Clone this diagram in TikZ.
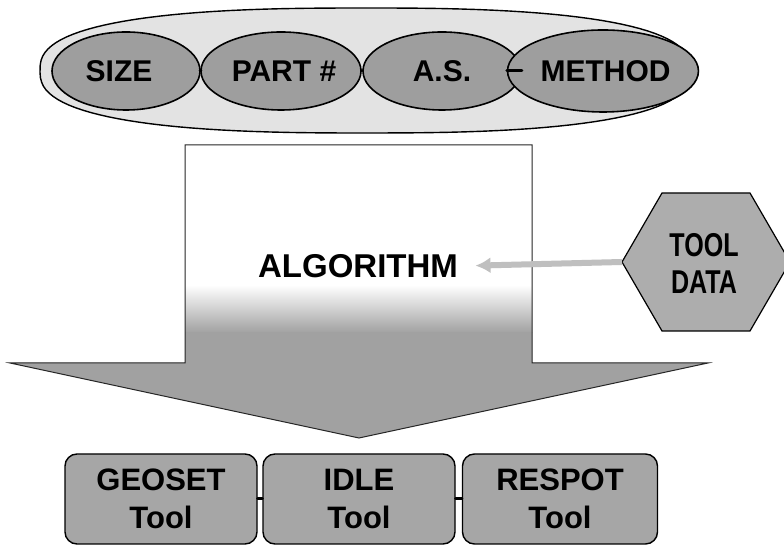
\documentclass[tikz,border=0pt]{standalone}
\usepackage{fontspec}
\setmainfont{Liberation Sans}
\usetikzlibrary{shapes.geometric,arrows.meta}
\begin{document}
\begin{tikzpicture}[x=1pt,y=1pt,
  ell/.style={ellipse, draw=black, line width=1.6pt, fill=black!38, inner sep=0pt,
    minimum height=78pt, font=\fontsize{30}{36}\selectfont\bfseries},
  toolbox/.style={rectangle, rounded corners=12pt, draw=black, line width=1.4pt,
    fill=black!35, minimum width=192pt, minimum height=90pt, align=center,
    font=\fontsize{31}{38}\selectfont\bfseries},
  link/.style={line width=3pt, line cap=round, draw=black},
  bigtext/.style={font=\fontsize{33}{40}\selectfont\bfseries},
  hextext/.style={font=\fontsize{33}{37}\selectfont\bfseries, align=center}
]
\useasboundingbox (0,0) rectangle (784,545);
\fill[white] (0,0) rectangle (784,545);

% outer container
\draw[line width=1.4pt, fill=black!11]
  plot[domain=0.5:360.5, samples=121]
  ({365+325*sign(cos(\x))*pow(abs(cos(\x)),0.77)},
   {474.5+62.5*sign(sin(\x))*pow(abs(sin(\x)),0.77)}) -- cycle;

% inner ellipses
\node[ell, minimum width=148pt] (size) at (126,474) {\hspace*{-14pt}SIZE};
\node[ell, minimum width=160pt] (part) at (281,474) {\hspace*{6pt}PART \#};
\node[ell, minimum width=158pt] (as) at (442,474) {A.S.};
\node[ell, minimum width=158pt, minimum height=82pt] (method) at (603,474) {\hspace*{5pt}METHOD};
\draw[link] (size.east) -- (part.west);
\draw[link] (part.east) -- (as.west);
\draw[link] (as.east) -- (method.west);

% big down arrow
\begin{scope}
  \clip (185,400) -- (532,400) -- (532,182) -- (708,182) -- (359,107) -- (10,182) -- (185,182) -- cycle;
  \fill[white] (0,0) rectangle (784,545);
  \shade[top color=white, bottom color=black!37] (0,212) rectangle (784,260);
  \fill[black!37] (0,100) rectangle (784,212.5);
\end{scope}
\draw[black!85, line width=1pt, line join=miter]
  (185,400) -- (532,400) -- (532,182) -- (708,182) -- (359,107) -- (10,182) -- (185,182) -- cycle;

\node[bigtext] (alg) at (358,279) {ALGORITHM};

% tool data hexagon
\draw[line width=1.2pt, fill=black!32]
  (622,283) -- (662,352) -- (750,352) -- (790,283) -- (750,214) -- (662,214) -- cycle;
\coordinate (hexL) at (622,283);
\node[hextext] (td) at (704,282) {\scalebox{0.76}[1]{TOOL}\\\scalebox{0.76}[1]{DATA}};
\draw[black!25, line width=6pt, -{Latex[length=15pt,width=16pt]}, shorten >=14pt]
  (hexL) -- (alg.east);

% tool boxes
\node[toolbox] (geo) at (161,46) {GEOSET\\Tool};
\node[toolbox] (idle) at (359,46) {IDLE\\Tool};
\node[toolbox, minimum width=195pt] (respot) at (560,46) {RESPOT\\Tool};
\draw[link] (geo.east) -- (idle.west);
\draw[link] (idle.east) -- (respot.west);
\end{tikzpicture}
\end{document}
